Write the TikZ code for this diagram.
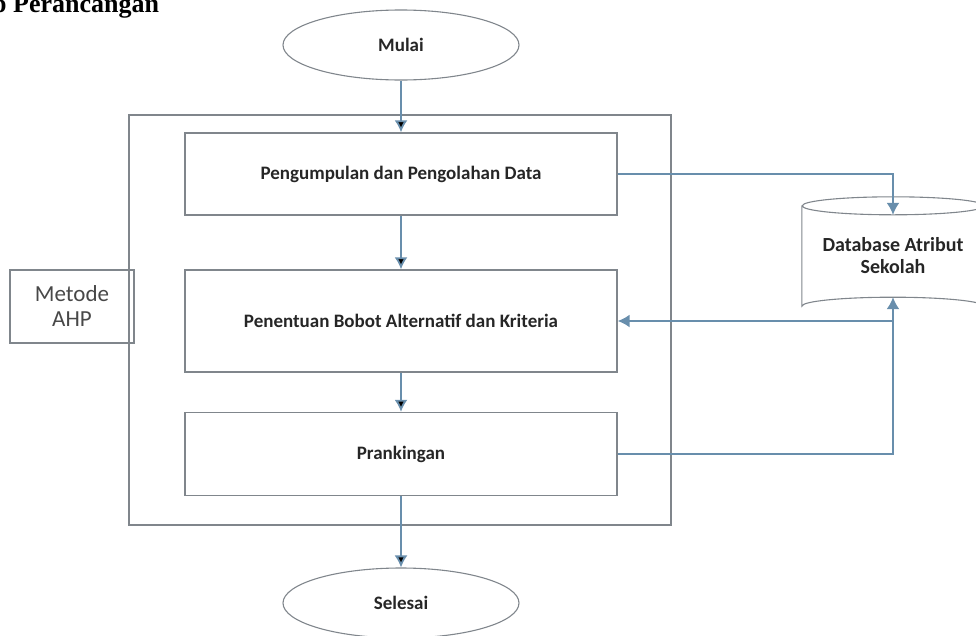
\documentclass[tikz,border=0pt]{standalone}
\usepackage{fontspec}
\setmainfont{Liberation Serif}
\newfontfamily\calibri{Carlito}
\usepackage{xcolor}
\usetikzlibrary{arrows.meta, shapes.geometric}

\definecolor{linkblue}{RGB}{104,142,172}
\definecolor{boxgray}{RGB}{128,134,140}
\definecolor{txtgray}{RGB}{72,72,72}

\begin{document}
\begin{tikzpicture}[x=1pt, y=-1pt, -{Latex[length=12pt, width=13pt]}, auto,
    proc/.style={draw=boxgray, line width=1.4pt, minimum width=432pt, font=\calibri\bfseries\fontsize{19}{22}\selectfont, text=black!85},
    term/.style={ellipse, draw=boxgray, line width=1.1pt, minimum width=236pt, minimum height=70pt, font=\calibri\bfseries\fontsize{19}{22}\selectfont, text=black!85},
    link/.style={draw=linkblue, line width=1.8pt}]
      \useasboundingbox (0,0) rectangle (976,635);
      \node[anchor=base west, inner sep=0pt, font=\bfseries\fontsize{26}{28}\selectfont] (judul) at (-8,12) {p Perancangan};

      \node[draw=boxgray, line width=1.4pt, minimum width=542pt, minimum height=410pt, -] (frame) at (400,320) {};
      \node[term] (mulai) at (401,45) {Mulai};
      \node[proc, minimum height=82pt] (kumpul) at (401,174) {Pengumpulan dan Pengolahan Data};
      \node[proc, minimum height=102pt] (bobot) at (401,321) {Penentuan Bobot Alternatif dan Kriteria};
      \node[proc, minimum height=83pt] (ranking) at (401,454) {Prankingan};
      \node[term] (selesai) at (401,603) {Selesai};
      \node[draw=boxgray, line width=1.4pt, minimum width=124pt, minimum height=73pt, align=center, text=txtgray,
            font=\calibri\fontsize{23}{25}\selectfont] (ahp) at (72,306.5) {Metode\\AHP};
      \node[minimum width=182pt, minimum height=82pt, align=center, text=black!85,
            font=\calibri\bfseries\fontsize{20}{22}\selectfont] (db) at (893,256) {Database Atribut\\Sekolah};

      % tabung database
      \draw[-, draw=boxgray, line width=1.1pt] ([yshift=9pt]db.north west) -- ([yshift=-9pt]db.south west)
            arc[start angle=180, end angle=360, x radius=91pt, y radius=-9pt]
            -- ([yshift=9pt]db.north east)
            arc[start angle=0, end angle=-360, x radius=91pt, y radius=-9pt];

      \path[link] (mulai) edge (kumpul)
            (kumpul) edge (bobot)
            (bobot) edge (ranking)
            (ranking) edge (selesai);
      \draw[link] (kumpul.east) -| (db.north);
      \draw[link] (ranking.east) -| (db.south);
      \coordinate (cabang) at (db.south |- bobot.east);
      \draw[link] (cabang) -- (bobot.east);
    \end{tikzpicture}
\end{document}
